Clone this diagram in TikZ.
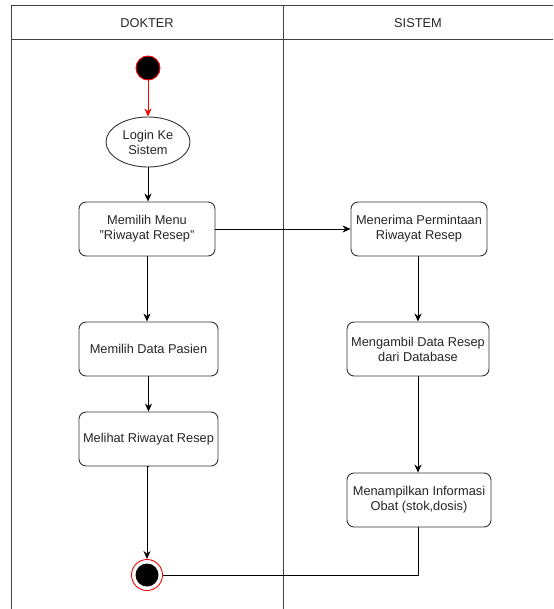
\documentclass[tikz,border=0pt]{standalone}
\usepackage{fontspec}
\setmainfont{Liberation Sans}
\usetikzlibrary{arrows.meta,shapes.geometric}
\begin{document}
\begin{tikzpicture}[x=1pt,y=-1pt,
  every node/.style={font=\fontsize{12.8}{15}\selectfont, text=black!85},
  lane/.style={draw=black!75, line width=1pt},
  actbox/.style={draw=black!80, line width=0.9pt, rounded corners=7pt, fill=white,
    minimum width=#1, minimum height=54pt, align=center, inner sep=2pt},
  actbox/.default=138pt,
  flow/.style={draw=black, line width=0.9pt, -{Stealth[length=8pt,width=7pt,inset=2.5pt]}},
  plainflow/.style={draw=black, line width=0.9pt}]
\useasboundingbox (0,0) rectangle (553,609);
% swimlane frame
\draw[lane] (11,609) -- (11,6) -- (553,6);
\draw[lane] (11,39.5) -- (553,39.5);
\draw[lane] (283,6) -- (283,609);
\node (hdoc) at (147,23) {DOKTER};
\node (hsys) at (418,23) {SISTEM};

% doctor lane
\node[circle, draw=red, line width=0.9pt, fill=black, minimum size=24pt, inner sep=0pt] (start) at (148,68) {};
\node[ellipse, draw=black!80, line width=0.9pt, fill=white, minimum width=84pt, minimum height=50pt, align=center, inner sep=0pt] (login) at (148,142) {Login Ke\\Sistem};
\node[actbox=136pt] (menu) at (147,229) {Memilih Menu\\"Riwayat Resep"};
\node[actbox=139pt] (pasien) at (148.5,349) {Memilih Data Pasien};
\node[actbox=139pt] (lihat) at (148.5,439) {Melihat Riwayat Resep};
\node[circle, draw=red, line width=0.9pt, fill=white, minimum size=31pt, inner sep=0pt] (end) at (147,575) {};
\node[circle, fill=black, minimum size=23pt, inner sep=0pt] (endin) at (end.center) {};

% system lane
\node[actbox=136pt] (terima) at (419,229) {Menerima Permintaan\\Riwayat Resep};
\node[actbox=142pt] (ambil) at (418,349) {Mengambil Data Resep\\dari Database};
\node[actbox=144pt] (tampil) at (419,500) {Menampilkan Informasi\\Obat (stok,dosis)};

% connectors
\draw[flow, draw=red] (start) -- (login);
\draw[flow] (login) -- (menu.north -| login.south);
\draw[flow] (menu.east) -- (terima.west);
\draw[flow] (menu.south) -- (menu.south |- pasien.north);
\draw[flow] (pasien) -- (lihat);
\draw[flow] (lihat.south) -- (lihat.south -| end) -- (end.north);
\draw[flow] (terima.south -| ambil.north) -- (ambil.north);
\draw[flow] (ambil.south) -- (tampil.north -| ambil.south);
\draw[plainflow] (tampil.south -| ambil.south) -- (end.center -| ambil.south) -- (end.east);
\end{tikzpicture}
\end{document}
